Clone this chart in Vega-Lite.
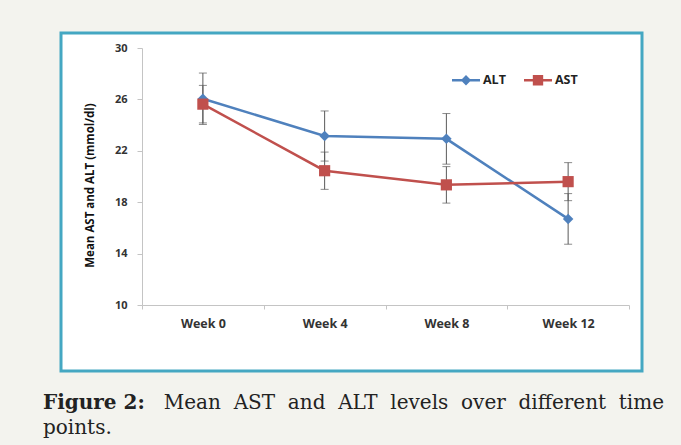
{
  "$schema": "https://vega.github.io/schema/vega-lite/v6.json",
  "width": 581,
  "height": 338,
  "autosize": {"type": "none"},
  "padding": {"left": 61, "top": 33, "right": 39, "bottom": 74},
  "background": "#f3f3ee",
  "config": {
    "view": {"fill": "white", "stroke": "#44a7c2", "strokeWidth": 3}
  },
  "title": {
    "text": "Figure 2:",
    "subtitle": ["\u200b\u00a0\u00a0\u00a0\u00a0\u00a0\u00a0\u00a0\u00a0\u00a0\u00a0\u00a0\u00a0\u00a0\u00a0\u00a0\u00a0\u00a0\u00a0\u00a0Mean \u00a0AST \u00a0and \u00a0ALT \u00a0levels \u00a0over \u00a0different \u00a0time", "points."],
    "orient": "bottom",
    "anchor": "start",
    "frame": "group",
    "offset": 22,
    "dx": -18,
    "font": "DejaVu Serif",
    "fontSize": 20,
    "fontWeight": "bold",
    "color": "#222222",
    "subtitleFont": "DejaVu Serif",
    "subtitleFontSize": 20,
    "subtitleFontWeight": "normal",
    "subtitleColor": "#222222",
    "subtitlePadding": -20,
    "subtitleLineHeight": 25
  },
  "data": {
    "values": [
      {"week": "Week 0", "series": "ALT", "value": 26.05, "lo": 24.05, "hi": 28.05},
      {"week": "Week 4", "series": "ALT", "value": 23.15, "lo": 21.2, "hi": 25.1},
      {"week": "Week 8", "series": "ALT", "value": 22.93, "lo": 20.96, "hi": 24.9},
      {"week": "Week 12", "series": "ALT", "value": 16.7, "lo": 14.73, "hi": 18.67},
      {"week": "Week 0", "series": "AST", "value": 25.63, "lo": 24.17, "hi": 27.09},
      {"week": "Week 4", "series": "AST", "value": 20.45, "lo": 19.0, "hi": 21.9},
      {"week": "Week 8", "series": "AST", "value": 19.35, "lo": 17.93, "hi": 20.77},
      {"week": "Week 12", "series": "AST", "value": 19.6, "lo": 18.12, "hi": 21.08}
    ]
  },
  "encoding": {
    "x": {
      "field": "week",
      "type": "nominal",
      "sort": ["Week 0", "Week 4", "Week 8", "Week 12"],
      "scale": {"type": "band", "range": [81, 568], "paddingInner": 0, "paddingOuter": 0},
      "axis": {
        "title": null,
        "labelAngle": 0,
        "offset": -66,
        "grid": false,
        "domainColor": "#c4c4c4",
        "tickColor": "#c4c4c4",
        "tickSize": 4,
        "tickBand": "extent",
        "labelFont": "Open Sans",
        "labelFontWeight": "bold",
        "labelFontSize": 12.5,
        "labelColor": "#333333",
        "labelPadding": 8
      }
    }
  },
  "layer": [
    {
      "mark": {"type": "rule", "color": "#5a5a5a", "strokeWidth": 1},
      "encoding": {
        "y": {
          "field": "lo",
          "type": "quantitative",
          "scale": {"domain": [10, 30], "range": [272, 15], "nice": false, "zero": false},
          "axis": {
            "title": "Mean AST and ALT (mmol/dl)",
            "values": [10, 14, 18, 22, 26, 30],
            "offset": -81,
            "grid": false,
            "domainColor": "#c4c4c4",
            "tickColor": "#c4c4c4",
            "tickSize": 5,
            "labelFont": "Open Sans",
            "labelFontWeight": "bold",
            "labelFontSize": 11,
            "labelColor": "#333333",
            "labelPadding": 10,
            "titleFont": "Open Sans",
            "titleFontSize": 11.5,
            "titleFontWeight": "bold",
            "titleColor": "#111111",
            "titlePadding": 19,
            "titleY": 152
          }
        },
        "y2": {"field": "hi"}
      }
    },
    {
      "mark": {"type": "tick", "color": "#5a5a5a", "thickness": 1, "size": 8},
      "encoding": {"y": {"field": "lo", "type": "quantitative"}}
    },
    {
      "mark": {"type": "tick", "color": "#5a5a5a", "thickness": 1, "size": 8},
      "encoding": {"y": {"field": "hi", "type": "quantitative"}}
    },
    {
      "mark": {"type": "line", "strokeWidth": 2.5},
      "encoding": {
        "y": {"field": "value", "type": "quantitative"},
        "color": {
          "field": "series",
          "type": "nominal",
          "scale": {"domain": ["ALT", "AST"], "range": ["#4f81bd", "#c0504d"]},
          "legend": {
            "title": null,
            "orient": "none",
            "legendX": 391,
            "legendY": 33,
            "direction": "horizontal",
            "columns": 2,
            "columnPadding": 18,
            "symbolSize": 784,
            "symbolType": "square",
            "symbolStrokeWidth": 0,
            "labelOffset": 3,
            "labelFont": "Open Sans",
            "labelFontWeight": "bold",
            "labelFontSize": 12.5,
            "labelColor": "#222222",
            "padding": 0,
            "encoding": {
              "symbols": {
                "shape": {
                  "condition": {"test": "datum.value === 'ALT'", "value": "M-1,-0.09L1,-0.09L1,0.09L-1,0.09Z M0,-0.37L0.37,0L0,0.37L-0.37,0Z"},
                  "value": "M-1,-0.09L1,-0.09L1,0.09L-1,0.09Z M-0.37,-0.37L0.37,-0.37L0.37,0.37L-0.37,0.37Z"
                },
                "fill": {
                  "condition": {"test": "datum.value === 'ALT'", "value": "#4f81bd"},
                  "value": "#c0504d"
                },
                "fillOpacity": {"value": 1},
                "strokeWidth": {"value": 0}
              }
            }
          }
        }
      }
    },
    {
      "transform": [{"filter": "datum.series === 'ALT'"}],
      "mark": {"type": "point", "filled": true, "opacity": 1, "shape": "diamond", "size": 110},
      "encoding": {
        "y": {"field": "value", "type": "quantitative"},
        "color": {"field": "series", "type": "nominal"}
      }
    },
    {
      "transform": [{"filter": "datum.series === 'AST'"}],
      "mark": {"type": "point", "filled": true, "opacity": 1, "shape": "square", "size": 125},
      "encoding": {
        "y": {"field": "value", "type": "quantitative"},
        "color": {"field": "series", "type": "nominal"}
      }
    }
  ]
}
